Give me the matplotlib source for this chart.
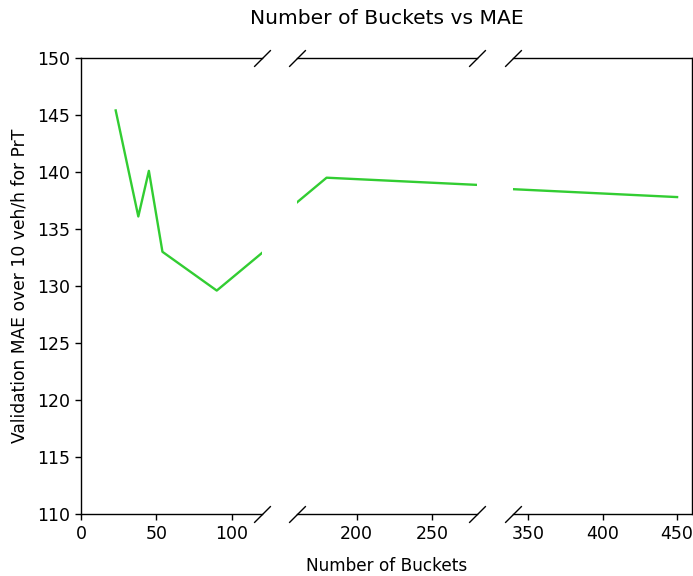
#Number of buckets vs validation MAE (broken x axis)

import numpy as np
import matplotlib.pyplot as plt


#Data:

buckets = [23, 38, 45, 54, 90, 180, 450]
mae = [145.4, 136.1, 140.1, 133.0, 129.6, 139.5, 137.8]

x_ranges = [(0, 120), (160, 280), (340, 460)]
x_ticks = [[0, 50, 100], [200, 250], [350, 400, 450]]
y_ticks = [110, 115, 120, 125, 130, 135, 140, 145, 150]


#Figure and panels

plt.rcParams['font.size'] = 12.5
fig = plt.figure(figsize=(6.93, 5.76), dpi=100)

W, H = 693, 576
left_px = [81, 296.5, 513]
width_px = [181, 180.5, 179]
top_px, bottom_px = 58, 514

axes = []
for i in range(3):
    ax = fig.add_axes([left_px[i] / W, 1 - bottom_px / H,
                       width_px[i] / W, (bottom_px - top_px) / H])
    ax.plot(buckets, mae, color='limegreen', lw=1.7)
    ax.set_xlim(*x_ranges[i])
    ax.set_ylim(110, 150)
    ax.set_xticks(x_ticks[i])
    ax.tick_params(length=4.5, width=1.0)
    for s in ax.spines.values():
        s.set_linewidth(1.0)
    if i > 0:
        ax.spines['left'].set_visible(False)
        ax.tick_params(axis='y', left=False, labelleft=False)
    else:
        ax.set_yticks(y_ticks)
    if i < 2:
        ax.spines['right'].set_visible(False)
    axes.append(ax)

#Diagonal break marks
kw = dict(marker=[(-1, -1), (1, 1)], markersize=12, linestyle='none',
          color='k', mec='k', mew=1.0, clip_on=False)
for i, ax in enumerate(axes):
    if i < 2:
        ax.plot([1, 1], [0, 1], transform=ax.transAxes, **kw)
    if i > 0:
        ax.plot([0, 0], [0, 1], transform=ax.transAxes, **kw)

fig.text(386.5 / W, 1 - 18 / H, 'Number of Buckets vs MAE', ha='center', va='center', fontsize=14.6)
fig.text(386.5 / W, 1 - 566 / H, 'Number of Buckets', ha='center', va='center', fontsize=12.2)
fig.text(19.5 / W, 1 - 286 / H, 'Validation MAE over 10 veh/h for PrT', ha='center', va='center',
         rotation=90, fontsize=12.3)

plt.savefig('out.png')
